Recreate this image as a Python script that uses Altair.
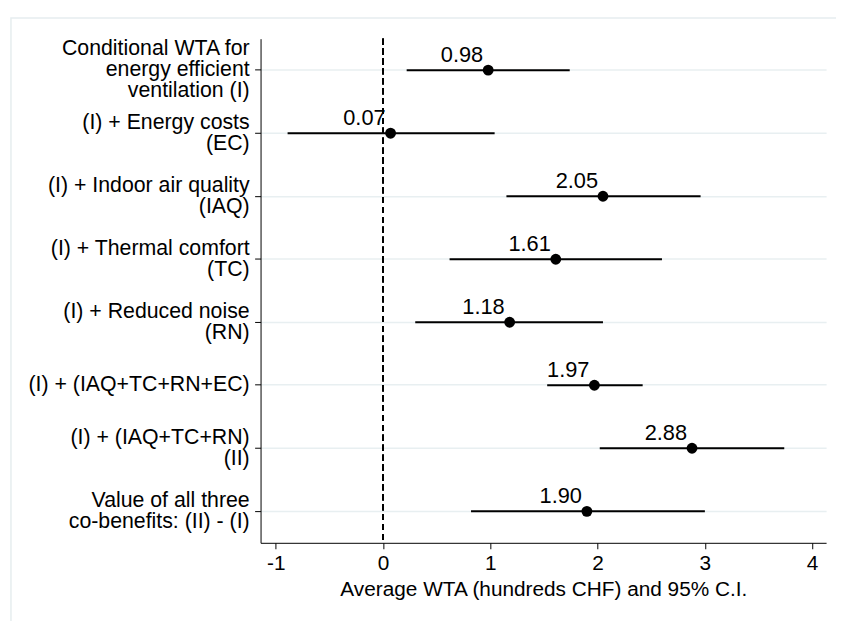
import altair as alt
import pandas as pd

labels = [
    "Conditional WTA for|energy efficient|ventilation (I)",
    "(I) + Energy costs|(EC)",
    "(I) + Indoor air quality|(IAQ)",
    "(I) + Thermal comfort|(TC)",
    "(I) + Reduced noise|(RN)",
    "(I) + (IAQ+TC+RN+EC)",
    "(I) + (IAQ+TC+RN)|(II)",
    "Value of all three|co-benefits: (II) - (I)",
]
estimate = [0.98, 0.07, 2.05, 1.61, 1.18, 1.97, 2.88, 1.90]
ci_low = [0.22, -0.89, 1.15, 0.62, 0.30, 1.53, 2.02, 0.82]
ci_high = [1.74, 1.04, 2.96, 2.60, 2.05, 2.42, 3.74, 3.00]
x_ticks = [-1, 0, 1, 2, 3, 4]

df = pd.DataFrame({"label": labels, "est": estimate, "lo": ci_low, "hi": ci_high})

# one row per label line (for multi-line category labels centred on their tick)
line_rows = []
for lab in labels:
    parts = lab.split("|")
    for i, p in enumerate(parts):
        line_rows.append({"label": lab, "line": p, "li": i, "n": len(parts)})
lines_df = pd.DataFrame(line_rows)

FONT = "Liberation Sans"
x_scale = alt.Scale(domain=[-1.142, 4.13], nice=False, zero=False)
y_scale = alt.Scale(paddingInner=0, paddingOuter=0)

y_enc = alt.Y(
    "label:N",
    sort=labels,
    scale=y_scale,
    axis=alt.Axis(
        title=None,
        labels=False,
        tickSize=6,
        tickColor="black",
        domainColor="black",
        grid=True,
        gridColor="#e8eff1",
        gridWidth=1.5,
    ),
)

x_enc = alt.X(
    "lo:Q",
    scale=x_scale,
    axis=alt.Axis(
        title="Average WTA (hundreds CHF) and 95% C.I.",
        values=x_ticks,
        labelExpr="'' + datum.value",
        labelFont=FONT,
        labelFontSize=21,
        labelColor="black",
        labelPadding=4,
        tickSize=6,
        tickColor="black",
        domainColor="black",
        grid=False,
        titleFont=FONT,
        titleFontSize=21,
        titleFontWeight="normal",
        titleColor="black",
        titlePadding=5,
    ),
)

base = alt.Chart(df)

frame = alt.Chart(pd.DataFrame({"a": [0]})).mark_rect(
    filled=False, stroke="#e6edef", strokeWidth=1.5
).encode(
    x=alt.value(-252), x2=alt.value(900), y=alt.value(-21), y2=alt.value(900)
)

zero_line = base.mark_rule(color="black", strokeWidth=1.6, strokeDash=[6, 4]).encode(
    x=alt.datum(0, scale=x_scale)
)

ci = base.mark_rule(color="black", strokeWidth=2).encode(
    x=x_enc, x2="hi:Q", y=y_enc
)

pts = base.mark_circle(size=120, color="black", opacity=1).encode(
    x=alt.X("est:Q", scale=x_scale), y=alt.Y("label:N", sort=labels, scale=y_scale)
)

txt = base.mark_text(
    align="right", baseline="alphabetic", dx=-5, dy=-8, font=FONT, fontSize=22, color="black"
).encode(
    x=alt.X("est:Q", scale=x_scale),
    y=alt.Y("label:N", sort=labels, scale=y_scale),
    text=alt.Text("est:Q", format=".2f"),
)

cat_labels = alt.Chart(lines_df).mark_text(
    align="right",
    baseline="middle",
    font=FONT,
    fontSize=21.5,
    color="black",
    dy=alt.ExprRef("(datum.li - (datum.n - 1) / 2) * 21"),
).encode(
    x=alt.value(-11),
    y=alt.Y("label:N", sort=labels, scale=y_scale),
    text="line:N",
)

chart = alt.layer(frame, zero_line, ci, pts, txt, cat_labels).properties(
    width=571,
    height=509,
    autosize=alt.AutoSizeParams(type="none"),
    padding={"left": 255, "top": 28, "right": 10, "bottom": 80},
    background="white",
).configure_view(strokeWidth=0)

chart.save("out.html", embed_options={"renderer": "svg", "actions": False})
